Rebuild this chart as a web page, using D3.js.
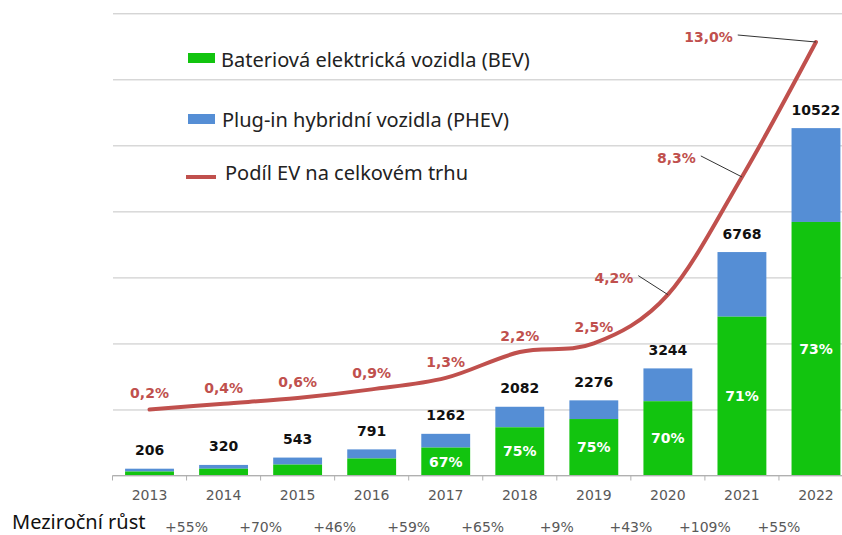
<!DOCTYPE html>
<html>
<head>
<meta charset="utf-8">
<script src="https://cdn.jsdelivr.net/npm/d3@7"></script>
<style>
  body { margin: 0; background: #fff; }
  svg { display: block; }
</style>
</head>
<body>
<svg id="chart" width="842" height="535"></svg>
<script>
// data
var years = ['2013', '2014', '2015', '2016', '2017', '2018', '2019', '2020', '2021', '2022'];
var totals = [206, 320, 543, 791, 1262, 2082, 2276, 3244, 6768, 10522];
var bev = [120, 205, 330, 515, 845, 1460, 1710, 2250, 4810, 7680];
var bevLabels = ['', '', '', '', '67%', '75%', '75%', '70%', '71%', '73%'];
var evShare = [0.2, 0.4, 0.6, 0.9, 1.3, 2.2, 2.5, 4.2, 8.3, 13.0];
var growth = ['+55%', '+70%', '+46%', '+59%', '+65%', '+9%', '+43%', '+109%', '+55%'];
var yTicks = [0, 2000, 4000, 6000, 8000, 10000, 12000, 14000];

var GREEN = '#12c40f', BLUE = '#558ed5', RED = '#c0504d';
var labelFont = '"DejaVu Sans", sans-serif';
var uiFont = '"Noto Sans", sans-serif';

var svg = d3.select('#chart');

var x = d3.scaleBand().domain(years).range([112.5, 853]).paddingInner(0.34).paddingOuter(0.17);
var y = d3.scaleLinear().domain([0, 14000]).range([475.5, 13.3]);
var y2 = d3.scaleLinear().domain([-2.1, 14]).range([475.5, 13.3]);
var cx = function(i) { return x(years[i]) + x.bandwidth() / 2; };

// gridlines
var grid = svg.append('g')
  .attr('transform', 'translate(113,0)')
  .call(d3.axisLeft(y).tickValues(yTicks).tickSize(-740).tickFormat(''));
grid.select('.domain').remove();
grid.selectAll('line').attr('stroke', '#c4c4c4');

// bars
var rows = years.map(function(yr, i) {
  return { year: yr, total: totals[i], bev: bev[i], label: bevLabels[i], i: i };
});

var bars = svg.append('g').selectAll('g').data(rows).enter().append('g');
bars.append('rect')
  .attr('x', function(d) { return x(d.year); })
  .attr('width', x.bandwidth())
  .attr('y', function(d) { return y(d.total); })
  .attr('height', function(d) { return y(d.bev) - y(d.total); })
  .attr('fill', BLUE);
bars.append('rect')
  .attr('x', function(d) { return x(d.year); })
  .attr('width', x.bandwidth())
  .attr('y', function(d) { return y(d.bev); })
  .attr('height', function(d) { return y(0) - y(d.bev); })
  .attr('fill', GREEN);

bars.append('text')
  .attr('x', function(d) { return cx(d.i); })
  .attr('y', function(d) { return (y(d.bev) + y(0)) / 2 + 5; })
  .attr('text-anchor', 'middle')
  .style('font', 'bold 14px ' + labelFont)
  .attr('fill', '#fff')
  .text(function(d) { return d.label; });

bars.append('text')
  .attr('x', function(d) { return cx(d.i); })
  .attr('y', function(d) { return y(d.total) - 13.5; })
  .attr('text-anchor', 'middle')
  .style('font', 'bold 14px ' + labelFont)
  .attr('fill', '#111')
  .text(function(d) { return d.total; });

// x axis baseline + ticks
var axis = svg.append('g');
axis.append('line')
  .attr('x1', 112.5).attr('x2', 842)
  .attr('y1', y(0)).attr('y2', y(0))
  .attr('stroke', '#b0b0b0');
var step = x.step();
axis.selectAll('.tk').data(d3.range(years.length + 1)).enter().append('line')
  .attr('x1', function(d) { return 112.5 + d * step; })
  .attr('x2', function(d) { return 112.5 + d * step; })
  .attr('y1', y(0)).attr('y2', y(0) + 5)
  .attr('stroke', '#b0b0b0');
axis.selectAll('.yr').data(years).enter().append('text')
  .attr('x', function(d, i) { return cx(i); })
  .attr('y', 500)
  .attr('text-anchor', 'middle')
  .style('font', '14px ' + labelFont)
  .attr('fill', '#595959')
  .text(function(d) { return d; });

// share line
var pts = evShare.map(function(v, i) { return [cx(i), y2(v)]; });
var line = d3.line().curve(d3.curveCardinal.tension(0));
svg.append('path')
  .attr('d', line(pts))
  .attr('fill', 'none')
  .attr('stroke', RED)
  .attr('stroke-width', 4)
  .attr('stroke-linecap', 'round');

// share labels, last three pulled out with leader lines
var callouts = { 7: [-54, -17], 8: [-65.5, -19], 9: [-107.5, -5] };
evShare.forEach(function(v, i) {
  var off = callouts[i] || [0, -16];
  var t = svg.append('text')
    .attr('x', pts[i][0] + off[0])
    .attr('y', pts[i][1] + off[1] + 5)
    .attr('text-anchor', 'middle')
    .style('font', 'bold 14px ' + labelFont)
    .attr('fill', RED)
    .text(d3.format('.1f')(v).replace('.', ',') + '%');
  if (callouts[i]) {
    var w = t.node().getComputedTextLength();
    svg.append('line')
      .attr('x1', pts[i][0] + off[0] + w / 2 + 5)
      .attr('y1', pts[i][1] + off[1] - 2)
      .attr('x2', pts[i][0])
      .attr('y2', pts[i][1])
      .attr('stroke', '#333')
      .attr('stroke-width', 1);
  }
});

// legend
var legend = svg.append('g');
legend.append('rect').attr('x', 188).attr('y', 53).attr('width', 27).attr('height', 10).attr('fill', GREEN);
legend.append('rect').attr('x', 188).attr('y', 114).attr('width', 27).attr('height', 10).attr('fill', BLUE);
legend.append('line').attr('x1', 186).attr('x2', 216).attr('y1', 177).attr('y2', 177)
  .attr('stroke', RED).attr('stroke-width', 4);
var legendText = [
  ['Bateriová elektrická vozidla (BEV)', 221, 67],
  ['Plug-in hybridní vozidla (PHEV)', 222, 127],
  ['Podíl EV na celkovém trhu', 225, 180]
];
legend.selectAll('text').data(legendText).enter().append('text')
  .attr('x', function(d) { return d[1]; })
  .attr('y', function(d) { return d[2]; })
  .style('font', '20px ' + uiFont)
  .attr('fill', '#222')
  .text(function(d) { return d[0]; });

// year-on-year growth row
svg.append('text')
  .attr('x', 12).attr('y', 529)
  .style('font', '20px ' + uiFont)
  .attr('fill', '#111')
  .text('Meziroční růst');
svg.append('g').selectAll('text').data(growth).enter().append('text')
  .attr('x', function(d, i) { return 112.5 + (i + 1) * step; })
  .attr('y', 532)
  .attr('text-anchor', 'middle')
  .style('font', '14px ' + labelFont)
  .attr('fill', '#595959')
  .text(function(d) { return d; });
</script>
</body>
</html>
